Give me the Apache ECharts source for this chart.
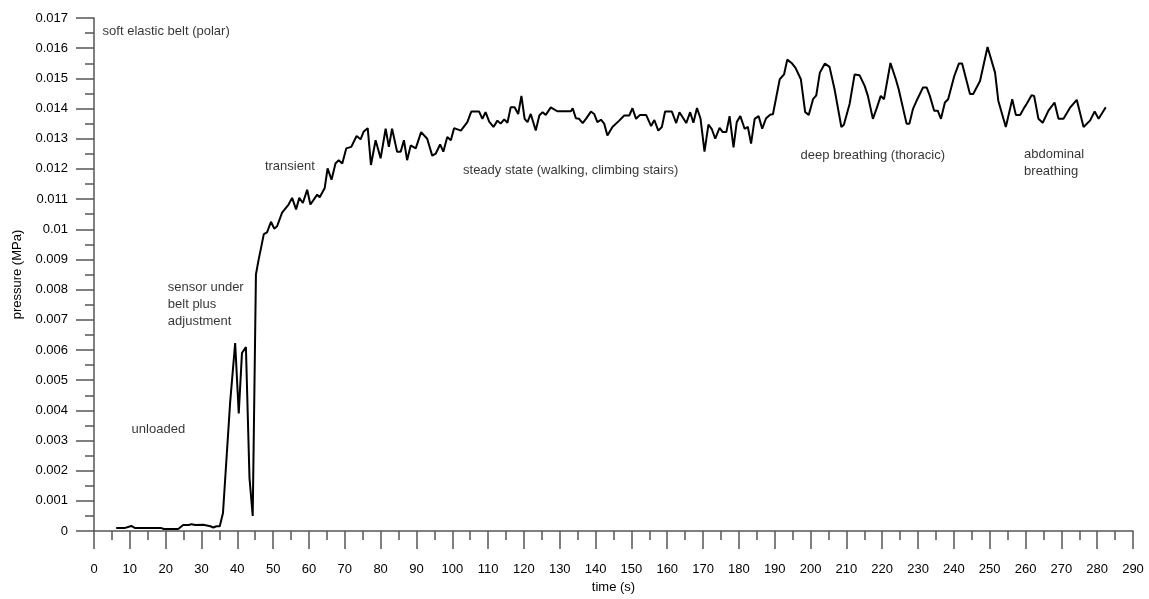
<!DOCTYPE html>
<html lang="en">
<head>
    <meta charset="UTF-8">
    <title>pressure</title>
    <script src="https://cdn.jsdelivr.net/npm/echarts@6/dist/echarts.min.js"></script>
</head>
<style>
    html, body { margin: 0; padding: 0; background: #fff; width: 100%; height: 100%; overflow: hidden; }
    #main { width: 100vw; height: 100vh; }
</style>
<body>
<div id="main"></div>
<script>
    // time (s)
    var times = [
        6.2, 8.5, 10.4, 11.5, 15, 18.8, 19.5, 23.5, 24.9, 26.5, 27.2, 28.3, 30.5, 32.5, 33.3, 34.2, 35.1, 36.0,
        38.0, 39.4, 40.4, 41.3, 42.4, 43.4, 44.3, 45.2, 45.9, 47.4, 48.3, 49.4, 50.3, 51.1, 52.5, 54.3, 55.3,
        56.4, 57.3, 58.3, 59.5, 60.4, 62.3, 63.0, 64.4, 65.2, 66.3, 67.4, 68.3, 69.3, 70.4, 71.8, 73.3, 74.4,
        75.3, 76.4, 77.3, 78.6, 80.0, 81.4, 82.3, 83.2, 84.6, 85.6, 86.5, 87.4, 88.4, 89.8, 91.3, 93.0, 94.4,
        95.4, 96.6, 97.5, 98.6, 99.6, 100.5, 102.4, 104.2, 105.3, 107.5, 108.4, 109.3, 110.3, 111.5, 112.6,
        113.5, 114.5, 115.4, 116.3, 117.4, 118.4, 119.3, 120.2, 121.0, 121.9, 123.3, 124.3, 125.2, 126.1,
        127.5, 129.3, 133.1, 133.6, 134.5, 135.4, 136.4, 137.3, 138.7, 139.6, 140.5, 141.5, 142.4, 143.3,
        144.7, 146.6, 148.0, 149.4, 150.3, 151.3, 152.4, 154.1, 155.5, 156.4, 157.5, 158.5, 159.4, 161.3,
        162.5, 163.4, 164.3, 165.3, 166.4, 167.3, 168.3, 169.3, 170.4, 171.5, 172.4, 173.4, 174.6, 175.5,
        176.5, 177.4, 178.5, 179.4, 180.4, 181.6, 182.5, 183.4, 184.4, 185.5, 186.5, 187.6, 188.8, 189.5,
        191.4, 192.6, 193.5, 194.7, 195.8, 197.3, 198.5, 199.5, 200.7, 201.6, 202.6, 204.0, 205.3, 206.7,
        208.6, 209.3, 210.9, 212.3, 213.7, 215.1, 216.0, 217.4, 218.4, 219.6, 220.5, 222.3, 223.8, 224.6,
        226.8, 227.6, 228.6, 229.8, 231.4, 232.4, 233.3, 234.5, 235.5, 236.4, 237.5, 238.4, 240.1, 241.4,
        242.3, 244.5, 245.4, 247.3, 249.4, 251.5, 252.4, 254.5, 256.3, 257.3, 258.5, 259.7, 260.3, 261.7,
        262.4, 263.6, 264.8, 266.4, 268.1, 269.2, 270.6, 272.5, 274.3, 276.2, 278.0, 279.3, 280.4, 282.4
    ];
    // pressure (MPa)
    var pressures = [
        0.0001, 0.0001, 0.00017, 0.0001, 0.0001, 0.0001, 0.00007, 0.00007, 0.0002, 0.0002, 0.00023, 0.0002, 0.00021, 0.00016, 0.00012, 0.00016, 0.00016, 0.0006,
        0.00427, 0.00623, 0.0039, 0.0059, 0.0061, 0.00176, 0.0005, 0.0085, 0.00896, 0.00984, 0.0099, 0.01025, 0.01002, 0.0101, 0.01055, 0.01082, 0.01104,
        0.01066, 0.01104, 0.01087, 0.01131, 0.01082, 0.01115, 0.01106, 0.01137, 0.01202, 0.01164, 0.01218, 0.01229, 0.01218, 0.01268, 0.01273, 0.01309, 0.01298,
        0.01324, 0.01335, 0.01213, 0.01295, 0.01235, 0.01333, 0.01273, 0.01333, 0.01257, 0.01257, 0.01295, 0.01229, 0.01278, 0.01268, 0.01322, 0.013, 0.01244,
        0.01251, 0.01281, 0.01257, 0.01306, 0.01295, 0.01335, 0.01327, 0.01355, 0.0139, 0.0139, 0.01366, 0.01388, 0.01357, 0.01339, 0.0136,
        0.0135, 0.01364, 0.01353, 0.01404, 0.01404, 0.01382, 0.01442, 0.01366, 0.01355, 0.01382, 0.01327, 0.01377, 0.01388, 0.01379,
        0.01404, 0.01391, 0.01391, 0.01401, 0.01368, 0.01366, 0.01352, 0.01366, 0.0139, 0.01382, 0.01355, 0.01363, 0.0135, 0.01311,
        0.01339, 0.0136, 0.01377, 0.01377, 0.01401, 0.01366, 0.01379, 0.01379, 0.01342, 0.01362, 0.01327, 0.01339, 0.0139, 0.0139,
        0.01352, 0.01388, 0.01371, 0.01352, 0.01388, 0.01353, 0.01402, 0.01366, 0.01257, 0.01347, 0.01333, 0.013, 0.01336, 0.01322,
        0.01322, 0.01375, 0.01271, 0.01355, 0.01375, 0.01333, 0.01339, 0.01284, 0.01366, 0.01375, 0.01333, 0.01368, 0.0138, 0.01381,
        0.01497, 0.01513, 0.01562, 0.01551, 0.01535, 0.01497, 0.01388, 0.01379, 0.01431, 0.01444, 0.01519, 0.01549, 0.01538, 0.01464,
        0.01339, 0.01346, 0.01415, 0.01513, 0.0151, 0.01475, 0.01442, 0.01366, 0.01399, 0.01442, 0.01431, 0.01551, 0.01497, 0.01464,
        0.0135, 0.0135, 0.01399, 0.01431, 0.0147, 0.0147, 0.01442, 0.01393, 0.01393, 0.01366, 0.0142, 0.01431, 0.01507, 0.01549,
        0.01549, 0.01448, 0.01448, 0.01491, 0.01604, 0.01519, 0.01426, 0.01339, 0.01431, 0.01379, 0.01379, 0.01404, 0.01415, 0.01444,
        0.01442, 0.01366, 0.01353, 0.01393, 0.0142, 0.01366, 0.01366, 0.01404, 0.01429, 0.01339, 0.0136, 0.0139, 0.01366, 0.01404
    ];
    // annotations: anchor time, anchor pressure (left / middle of first line), text
    var noteTimes = [2.4, 20.6, 10.5, 47.7, 103, 197.2, 259.6];
    var notePressures = [0.01657, 0.00809, 0.0034, 0.01209, 0.01196, 0.01245, 0.01251];
    var noteTexts = [
        'soft elastic belt (polar)',
        'sensor under\nbelt plus\nadjustment',
        'unloaded',
        'transient',
        'steady state (walking, climbing stairs)',
        'deep breathing (thoracic)',
        'abdominal\nbreathing'
    ];

    var lineData = [];
    for (var i = 0; i < times.length; i++) {
        lineData.push([times[i], pressures[i]]);
    }
    var noteData = [];
    for (var j = 0; j < noteTexts.length; j++) {
        noteData.push({ value: [noteTimes[j], notePressures[j]], label: { formatter: noteTexts[j] } });
    }

    var axisColor = '#555';
    var fontFam = '"Liberation Sans", Arial, sans-serif';

    var myChart = echarts.init(document.getElementById('main'));
    var option = {
        animation: false,
        textStyle: { fontFamily: fontFam },
        grid: { left: 94, right: 16, top: 18, bottom: 62, containLabel: false },
        xAxis: {
            type: 'value',
            min: 0, max: 290, interval: 10,
            name: 'time (s)',
            nameLocation: 'middle',
            nameGap: 44,
            nameTextStyle: { color: '#000', fontSize: 13, fontFamily: fontFam },
            axisLine: { show: true, lineStyle: { color: axisColor, width: 1.5 } },
            axisTick: { show: true, length: 18, lineStyle: { color: axisColor, width: 1.5 } },
            minorTick: { show: true, splitNumber: 2, length: 9, lineStyle: { color: axisColor, width: 1.5 } },
            axisLabel: { color: '#000', fontSize: 13, margin: 32, fontFamily: fontFam },
            splitLine: { show: false }
        },
        yAxis: {
            type: 'value',
            min: 0, max: 0.017, interval: 0.001,
            name: 'pressure (MPa)',
            nameLocation: 'middle',
            nameGap: 70,
            nameTextStyle: { color: '#000', fontSize: 13, fontFamily: fontFam },
            axisLine: { show: true, lineStyle: { color: axisColor, width: 1.5 } },
            axisTick: { show: true, length: 18, lineStyle: { color: axisColor, width: 1.5 } },
            minorTick: { show: true, splitNumber: 2, length: 9, lineStyle: { color: axisColor, width: 1.5 } },
            axisLabel: {
                color: '#000', fontSize: 13, margin: 26, fontFamily: fontFam,
                formatter: function (v) { return String(parseFloat(v.toFixed(3))); }
            },
            splitLine: { show: false }
        },
        series: [
            {
                name: 'pressure',
                type: 'line',
                data: lineData,
                showSymbol: false,
                lineStyle: { color: '#000', width: 2 },
                z: 3
            },
            {
                name: 'notes',
                type: 'scatter',
                data: noteData,
                symbolSize: 0,
                silent: true,
                label: {
                    show: true,
                    position: 'right',
                    distance: 0,
                    align: 'left',
                    verticalAlign: 'top',
                    offset: [0, -8],
                    color: '#000',
                    fontSize: 13,
                    lineHeight: 17,
                    fontFamily: fontFam
                }
            }
        ]
    };
    myChart.setOption(option);
</script>
</body>
</html>
